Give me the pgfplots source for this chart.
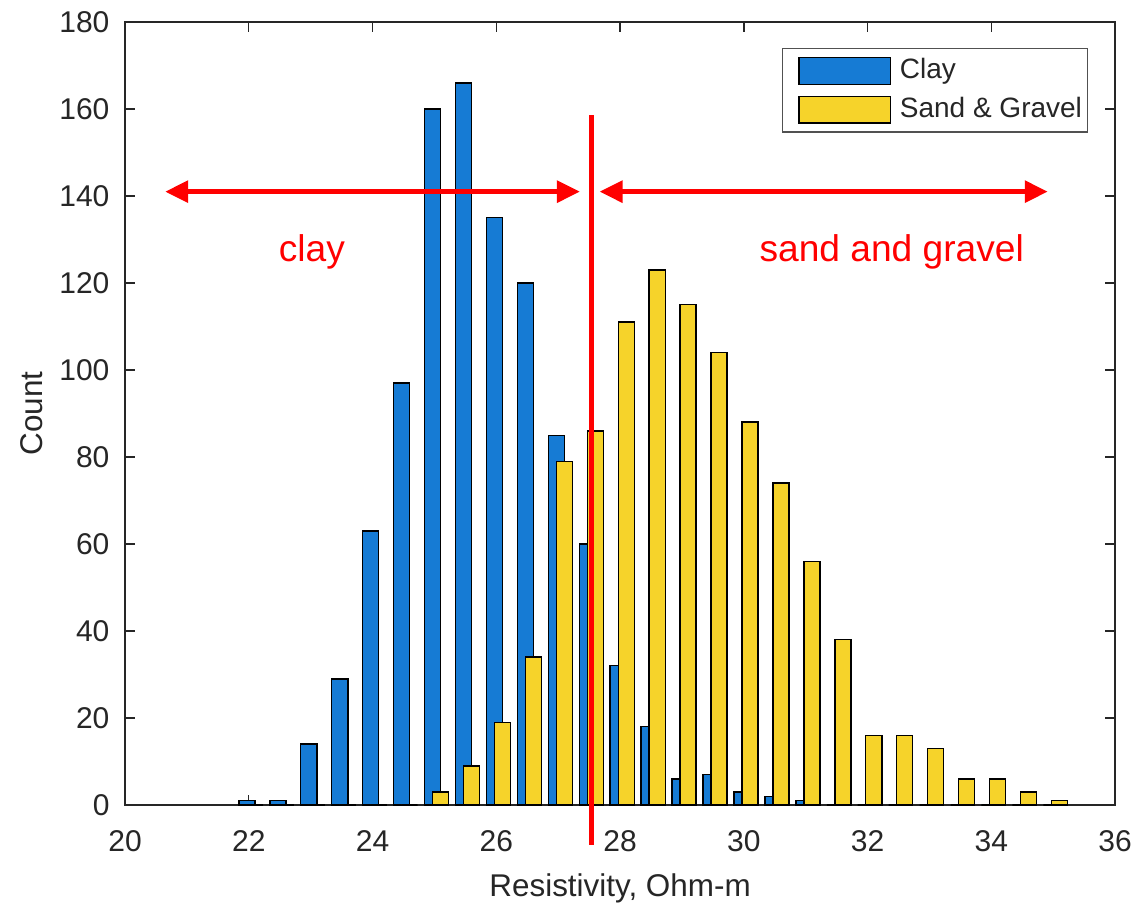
\documentclass[border=0pt]{standalone}
\usepackage{pgfplots}
\usepackage{pgfplotstable}
\pgfplotsset{compat=1.18}
\usepackage{fontspec}
\setmainfont{Liberation Sans}
\usetikzlibrary{arrows.meta}
\definecolor{clayblue}{RGB}{22,123,212}
\definecolor{sandyellow}{RGB}{246,211,42}
\definecolor{axgray}{RGB}{38,38,38}
\pgfplotsset{widebar/.style={legend image code/.code={\path (-4.5pt,0pt) (34pt,0pt);\draw[##1] (0pt,-4.7pt) rectangle (32pt,4.7pt);}}}

\pgfplotstableread{
x y
21.97 1
22.47 1
22.97 14
23.47 29
23.97 63
24.47 97
24.97 160
25.47 166
25.97 135
26.47 120
26.97 85
27.47 60
27.97 32
28.47 18
28.97 6
29.47 7
29.97 3
30.47 2
30.97 1
31.47 0
31.97 0
32.47 0
32.97 0
33.47 0
33.97 0
34.47 0
34.97 0
}\claytable

\pgfplotstableread{
x y
22.10 0
22.60 0
23.10 0
23.60 0
24.10 0
24.60 0
25.10 3
25.60 9
26.10 19
26.60 34
27.10 79
27.60 86
28.10 111
28.60 123
29.10 115
29.60 104
30.10 88
30.60 74
31.10 56
31.60 38
32.10 16
32.60 16
33.10 13
33.60 6
34.10 6
34.60 3
35.10 1
}\sandtable

\begin{document}
\begin{tikzpicture}
\begin{axis}[
  scale only axis,
  width=346.5pt, height=274pt,
  xmin=20, xmax=36, ymin=0, ymax=180,
  xtick={20,22,...,36}, ytick={0,20,...,180},
  tick align=inside,
  major tick length=3.5pt,
  every tick/.style={axgray, line width=0.5pt},
  axis line style={axgray, line width=0.5pt},
  /pgf/number format/assume math mode=true,
  ticklabel style={font=\fontsize{10.5}{12}\selectfont, text=axgray, inner sep=0pt},
  xticklabel style={anchor=base, yshift=-16.4pt},
  yticklabel style={anchor=east, xshift=-5.25pt},
  xlabel={Resistivity, Ohm-m},
  ylabel={Count},
  label style={font=\fontsize{11}{13}\selectfont, text=axgray},
  xlabel style={at={(axis description cs:0.5,-0.1175)}, anchor=base},
  ylabel style={at={(axis description cs:-0.0838,0.5)}, anchor=base},
  clip=false,
  legend style={at={(0.973,0.967)}, anchor=north east, draw=axgray!80, line width=0.5pt,
    font=\fontsize{9.8}{11}\selectfont, text=axgray, cells={anchor=west},
    nodes={inner xsep=1pt},
    inner xsep=1pt, inner ysep=1.5pt, row sep=1pt},
]
\addplot[ybar, bar width=0.26, bar shift=0pt, fill=clayblue, draw=black, line width=0.5pt, widebar]
  table[x=x,y=y]{\claytable};
\addlegendentry{Clay}
\addplot[ybar, bar width=0.26, bar shift=0pt, fill=sandyellow, draw=black, line width=0.5pt, widebar]
  table[x=x,y=y]{\sandtable};
\addlegendentry{Sand \& Gravel}

\draw[red, line width=1.8pt] (axis cs:27.54,-9.2) -- (axis cs:27.54,158.7);
\draw[red, line width=1.6pt, {Triangle[length=8pt,width=7.5pt]}-{Triangle[length=8pt,width=7.5pt]}]
  (axis cs:20.65,141) -- (axis cs:27.35,141);
\draw[red, line width=1.6pt, {Triangle[length=8pt,width=7.5pt]}-{Triangle[length=8pt,width=7.5pt]}]
  (axis cs:27.67,141) -- (axis cs:34.91,141);
\node[red, font=\fontsize{13}{15}\selectfont] at (axis cs:23.02,127.1) {clay};
\node[red, font=\fontsize{13}{15}\selectfont] at (axis cs:32.39,127.1) {sand and gravel};
\end{axis}
\pgfresetboundingbox
\path[use as bounding box] (-43.75pt,-35pt) rectangle (356.25pt,281.7pt);
\end{tikzpicture}
\end{document}
